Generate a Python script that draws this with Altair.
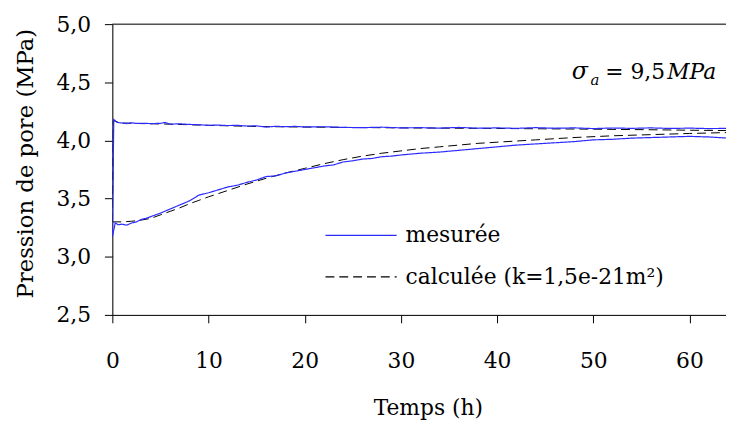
import altair as alt
import pandas as pd

# ---------------- data ----------------
LBL_M = "mesurée"
LBL_C = "calculée (k=1,5e-21m²)"

mu_t = [0, 0.15, 0.5, 1, 1.5, 2, 2.5, 3, 4, 5, 5.5, 6, 7, 8, 9, 10, 11, 12, 13, 14, 15, 16, 17,
        18, 19, 20, 22, 24, 26, 28, 30, 32, 34, 36, 38, 40, 42, 44, 46, 48, 50, 52, 54, 56, 58,
        60, 62, 64]
mu_p = [3.17, 4.18, 4.155, 4.15, 4.145, 4.152, 4.146, 4.148, 4.145, 4.147, 4.155, 4.14, 4.143,
        4.138, 4.135, 4.13, 4.132, 4.128, 4.13, 4.124, 4.125, 4.115, 4.122, 4.118, 4.121, 4.116,
        4.118, 4.112, 4.11, 4.114, 4.108, 4.11, 4.106, 4.112, 4.105, 4.108, 4.104, 4.11, 4.105,
        4.108, 4.102, 4.107, 4.104, 4.108, 4.103, 4.106, 4.102, 4.104]

ml_t = [0, 0.3, 0.6, 1, 1.5, 2, 2.5, 3, 3.5, 4, 5, 6, 7, 8, 9, 10, 11, 12, 13, 14, 15, 16, 17,
        18, 19, 20, 21, 22, 23, 24, 25, 26, 27, 28, 29, 30, 32, 34, 36, 38, 40, 42, 44, 46, 48,
        50, 52, 54, 56, 58, 60, 62, 64]
ml_p = [3.17, 3.29, 3.275, 3.28, 3.272, 3.29, 3.30, 3.32, 3.33, 3.345, 3.375, 3.41, 3.445, 3.48,
        3.53, 3.55, 3.575, 3.60, 3.615, 3.64, 3.66, 3.69, 3.695, 3.72, 3.735, 3.75, 3.765, 3.78,
        3.79, 3.815, 3.825, 3.84, 3.845, 3.86, 3.865, 3.875, 3.89, 3.90, 3.915, 3.93, 3.945,
        3.96, 3.97, 3.98, 3.99, 4.005, 4.01, 4.02, 4.025, 4.03, 4.035, 4.03, 4.02]

cu_t = [0, 0.1, 1, 3, 6, 10, 15, 20, 30, 40, 50, 56, 60, 64]
cu_p = [3.30, 4.17, 4.15, 4.145, 4.14, 4.13, 4.12, 4.115, 4.108, 4.103, 4.097, 4.092, 4.088, 4.085]

cl_t = [0, 1, 2, 3, 4, 5, 6, 7, 8, 9, 10, 12, 14, 16, 18, 20, 22, 24, 26, 28, 30, 32, 34, 36,
        38, 40, 44, 48, 52, 56, 60, 64]
cl_p = [3.30, 3.30, 3.305, 3.315, 3.33, 3.36, 3.39, 3.42, 3.455, 3.485, 3.515, 3.57, 3.625,
        3.675, 3.72, 3.76, 3.80, 3.835, 3.865, 3.89, 3.91, 3.93, 3.945, 3.96, 3.975, 3.985,
        4.005, 4.025, 4.04, 4.05, 4.06, 4.068]

x_ticks = [0, 10, 20, 30, 40, 50, 60]
y_ticks = [2.5, 3.0, 3.5, 4.0, 4.5, 5.0]

# annotation  sigma_a = 9,5MPa
ann_txt = ["σ", "a", "= 9,5", "MPa"]
ann_t = [47.76, 49.7, 51.25, 57.7]
ann_p = [4.532, 4.481, 4.532, 4.532]

rows = []
for name, label, ts, ps in [("cu", LBL_C, cu_t, cu_p), ("cl", LBL_C, cl_t, cl_p),
                            ("mu", LBL_M, mu_t, mu_p), ("ml", LBL_M, ml_t, ml_p)]:
    for t, p in zip(ts, ps):
        rows.append({"t": t, "p": p, "serie": label, "courbe": name})
df = pd.DataFrame(rows)
ann = pd.DataFrame({"t": ann_t, "p": ann_p, "txt": ann_txt})

FONT = "DejaVu Serif"
FS = 22

xscale = alt.Scale(domain=[0, 63.8], nice=False, zero=False)
yscale = alt.Scale(domain=[2.5, 5.0], nice=False, zero=False)

xaxis = alt.Axis(values=x_ticks, title="Temps (h)", grid=False, tickSize=8, labelPadding=28,
                 labelFont=FONT, labelFontSize=FS, labelColor="black",
                 titleFont=FONT,
                 titleFontSize=22, titleFontWeight="normal", titleColor="black",
                 titleX=319, titleY=101, titleBaseline="alphabetic", titleAlign="center",
                 domainColor="black", tickColor="black", labelFlush=False)
yaxis = alt.Axis(values=y_ticks, title="Pression de pore (MPa)", grid=False, tickSize=8,
                 labelPadding=14, labelExpr="replace(format(datum.value, '.1f'), '.', ',')",
                 labelFont=FONT, labelFontSize=FS, labelColor="black",
                 titleFont=FONT,
                 titleFontSize=23, titleFontWeight="normal", titleColor="black",
                 titleX=-80.5, titleY=140.5, titleBaseline="alphabetic", titleAlign="center",
                 titleAngle=270, domainColor="black", tickColor="black", labelFlush=False)

legend = alt.Legend(orient="none", legendX=214.5, legendY=200, title=None, symbolType="stroke",
                    symbolSize=5184, symbolStrokeWidth=1.2, labelFont=FONT, labelFontSize=FS,
                    labelColor="black", labelOffset=8, rowPadding=15, clipHeight=27, padding=0,
                    labelLimit=0)

color = alt.Color("serie:N", scale=alt.Scale(domain=[LBL_M, LBL_C], range=["#2b2bff", "black"]),
                  legend=legend)
dash = alt.StrokeDash("serie:N", scale=alt.Scale(domain=[LBL_M, LBL_C], range=[[1, 0], [9, 5]]),
                      legend=legend)

base = alt.Chart(df)
calc = base.transform_filter(alt.datum.serie == LBL_C).mark_line(strokeWidth=1, clip=True).encode(
    x=alt.X("t:Q", scale=xscale, axis=xaxis),
    y=alt.Y("p:Q", scale=yscale, axis=yaxis),
    color=color, strokeDash=dash, detail="courbe:N", order="t:Q")
meas = base.transform_filter(alt.datum.serie == LBL_M).mark_line(strokeWidth=1.2, clip=True).encode(
    x=alt.X("t:Q", scale=xscale, axis=xaxis),
    y=alt.Y("p:Q", scale=yscale, axis=yaxis),
    color=color, strokeDash=dash, detail="courbe:N", order="t:Q")

top = alt.Chart(pd.DataFrame({"v": [5.0]})).mark_rule(color="black", strokeWidth=1).encode(
    y=alt.Y("v:Q", scale=yscale))

a_base = alt.Chart(ann).encode(x=alt.X("t:Q", scale=xscale), y=alt.Y("p:Q", scale=yscale),
                               text="txt:N")
sig = a_base.transform_filter(alt.datum.txt == "σ").mark_text(
    font=FONT, fontSize=24, fontStyle="italic", align="left", baseline="alphabetic", color="black")
sub = a_base.transform_filter(alt.datum.txt == "a").mark_text(
    font=FONT, fontSize=15, fontStyle="italic", align="left", baseline="alphabetic", color="black")
eq = a_base.transform_filter(alt.datum.txt == "= 9,5").mark_text(
    font=FONT, fontSize=FS, align="left", baseline="alphabetic", color="black")
mpa = a_base.transform_filter(alt.datum.txt == "MPa").mark_text(
    font=FONT, fontSize=FS, fontStyle="italic", align="left", baseline="alphabetic", color="black")

chart = alt.layer(calc, meas, top, sig, sub, eq, mpa).properties(
    width=620.5, height=294,
    autosize=alt.AutoSizeParams(type="none"),
    padding={"left": 105.5, "top": 14, "right": 0, "bottom": 109},
).configure_view(stroke=None).configure(background="white")

chart.save("out.html", embed_options={"renderer": "svg", "actions": False})
